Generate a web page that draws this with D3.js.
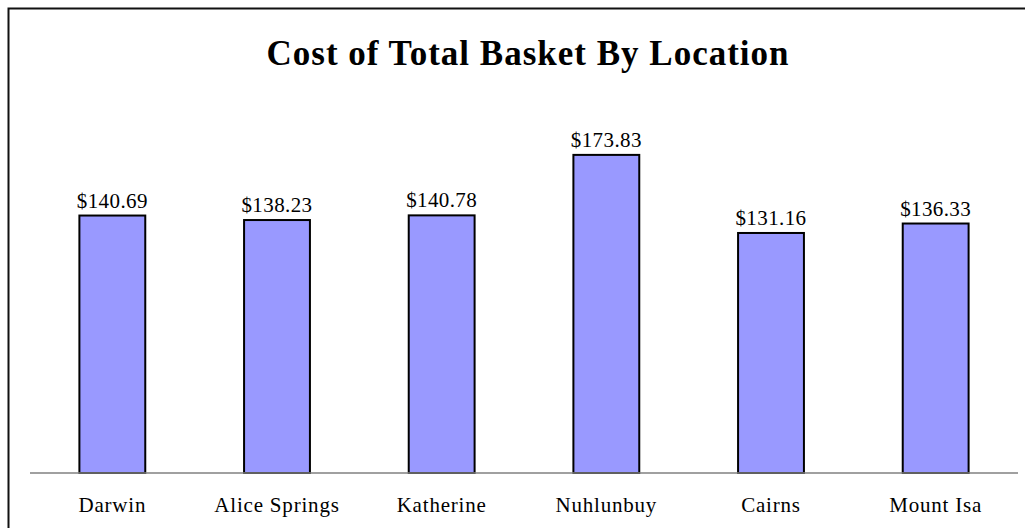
<!DOCTYPE html>
<html>
<head>
<meta charset="utf-8">
<script src="https://cdn.jsdelivr.net/npm/d3@7"></script>
<style>
  body { margin: 0; background: #fff; }
  svg { display: block; }
</style>
</head>
<body>
<svg id="chart" width="1025" height="528"></svg>
<script>
const locations = ["Darwin", "Alice Springs", "Katherine", "Nuhlunbuy", "Cairns", "Mount Isa"];
const basketCost = [140.69, 138.23, 140.78, 173.83, 131.16, 136.33];

const svg = d3.select("#chart"),
      font = "'Liberation Serif', 'Times New Roman', serif";

// outer frame (top and left edges only show in the picture)
svg.append("path")
  .attr("d", "M8.5,528 V8.5 H1025")
  .attr("fill", "none")
  .attr("stroke", "#111")
  .attr("stroke-width", 2);

svg.append("text")
  .attr("x", 528)
  .attr("y", 65)
  .attr("text-anchor", "middle")
  .attr("font-family", font)
  .attr("font-size", "35px")
  .attr("font-weight", "bold")
  .attr("letter-spacing", "1px")
  .text("Cost of Total Basket By Location");

const x = d3.scaleBand().domain(locations).range([30, 1018]);
const y = d3.scaleLinear().domain([0, 200]).range([473, 107]);
const barW = x.bandwidth() * 0.4;

const data = locations.map((loc, i) => ({ loc, value: basketCost[i] }));

svg.append("g")
  .selectAll("rect")
  .data(data)
  .join("rect")
  .attr("x", d => x(d.loc) + (x.bandwidth() - barW) / 2)
  .attr("y", d => y(d.value))
  .attr("width", barW)
  .attr("height", d => y(0) - y(d.value))
  .attr("fill", "#9999ff")
  .attr("stroke", "#000")
  .attr("stroke-width", 2);

// baseline
svg.append("line")
  .attr("x1", 30).attr("x2", 1018)
  .attr("y1", y(0)).attr("y2", y(0))
  .attr("stroke", "#808080")
  .attr("stroke-width", 1.5);

svg.append("g")
  .selectAll("text")
  .data(data)
  .join("text")
  .attr("x", d => x(d.loc) + x.bandwidth() / 2)
  .attr("y", d => y(d.value) - 8)
  .attr("text-anchor", "middle")
  .attr("font-family", font)
  .attr("font-size", "21px")
  .attr("letter-spacing", "0.4px")
  .text(d => "$" + d.value.toFixed(2));

svg.append("g")
  .selectAll("text")
  .data(locations)
  .join("text")
  .attr("x", d => x(d) + x.bandwidth() / 2)
  .attr("y", 512)
  .attr("text-anchor", "middle")
  .attr("font-family", font)
  .attr("font-size", "21px")
  .attr("letter-spacing", "0.8px")
  .text(d => d);
</script>
</body>
</html>
